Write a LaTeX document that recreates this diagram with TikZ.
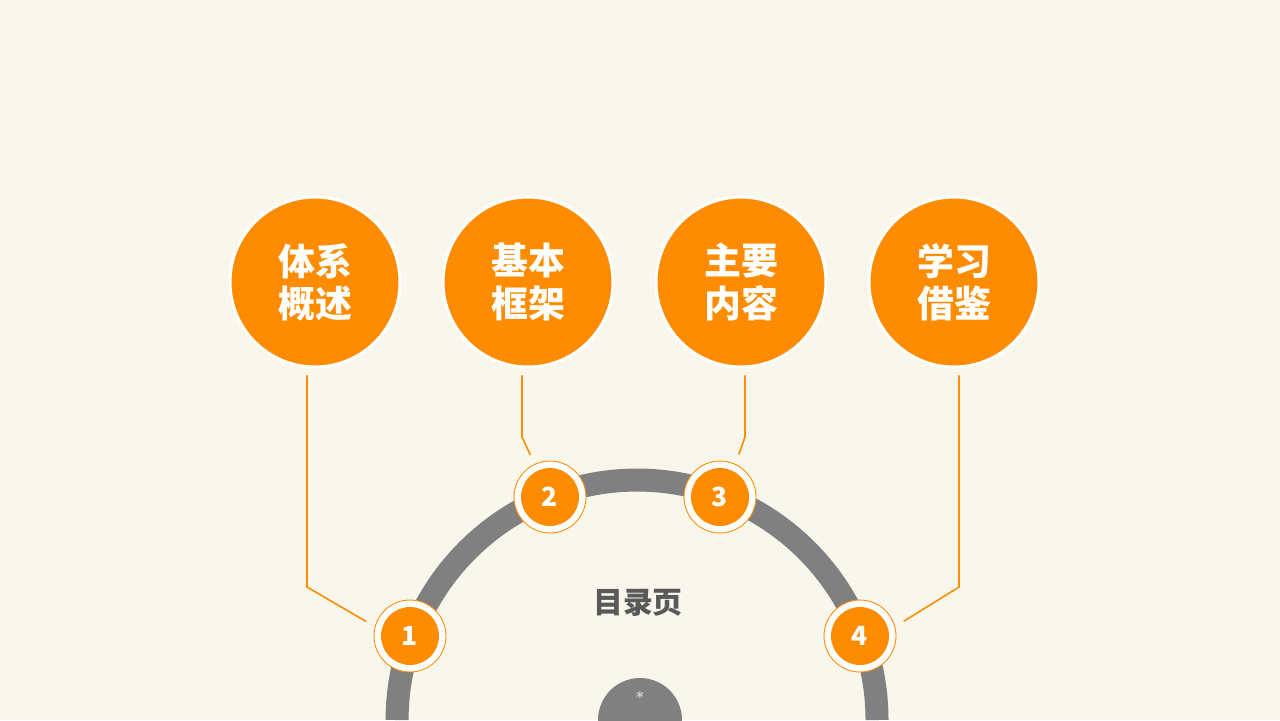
\documentclass[tikz,border=0pt]{standalone}
\usepackage{fontspec}
\newfontfamily\cjk{Noto Sans CJK SC}
\usepackage{tikz}
\usetikzlibrary{positioning}
\usepackage{xcolor}
\definecolor{bgcol}{RGB}{249,247,235}
\definecolor{orng}{RGB}{255,140,0}
\definecolor{ringgray}{RGB}{128,128,128}
\definecolor{txtgray}{RGB}{89,89,89}

\begin{document}
\begin{tikzpicture}[
          x=0.02cm, y=-0.02cm,
          topic/.style={circle, fill=orng, draw=white, line width=0.06cm,
            minimum size=3.4cm, inner sep=0pt, text=white, align=center,
            font=\cjk\bfseries\fontsize{21pt}{24pt}\selectfont},
          dot/.style={circle, fill=white, draw=orng, line width=0.5pt,
            minimum size=1.44cm, inner sep=0pt, text=white,
            font=\cjk\bfseries\fontsize{15pt}{15pt}\selectfont,
            path picture={\fill[orng] (path picture bounding box.center) circle (0.58cm);}},
          link/.style={draw=orng, line width=0.9pt, shorten <=0.14cm, shorten >=0.2cm}
        ]

        % Background and frame
        \fill[bgcol] (0,0) rectangle (1280,720);
        \clip (0,0) rectangle (1280,720);

        % Grey ring
        \draw[ringgray, line width=0.46cm] (877,720) arc[start angle=0, end angle=180, radius=4.8cm];

        % Bottom hub
        \node[circle, fill=ringgray, minimum size=1.68cm, inner sep=0pt] (hub) at (640,720) {};
        \node[text=white, font=\normalsize] (star) at (640,698) {*};

        % Title
        \node[text=txtgray, font=\cjk\bfseries\fontsize{17pt}{17pt}\selectfont] (title) at (638,603) {目录页};

        % Topic circles
        \node[topic] (b1) at (315,282) {体系\\概述};
        \node[topic] (b2) at (528,282) {基本\\框架};
        \node[topic] (b3) at (741,282) {主要\\内容};
        \node[topic] (b4) at (954,282) {学习\\借鉴};

        % Numbered dots on the ring
        \node[dot] (n1) at (410,636) {1};
        \node[dot] (n2) at (550,497) {2};
        \node[dot] (n3) at (720,497) {3};
        \node[dot] (n4) at (860,636) {4};

        % Bend points
        \coordinate (k1) at (307,587);
        \coordinate (k2) at (522,437);
        \coordinate (k3) at (745,437);
        \coordinate (k4) at (959,587);

        % Connectors
        \draw[link] (b1.south -| k1) -- (k1) -- (n1.165);
        \draw[link] (b2.south -| k2) -- (k2) -- (n2.115);
        \draw[link] (b3.south -| k3) -- (k3) -- (n3.65);
        \draw[link] (b4.south -| k4) -- (k4) -- (n4.15);

      \end{tikzpicture}
\end{document}
